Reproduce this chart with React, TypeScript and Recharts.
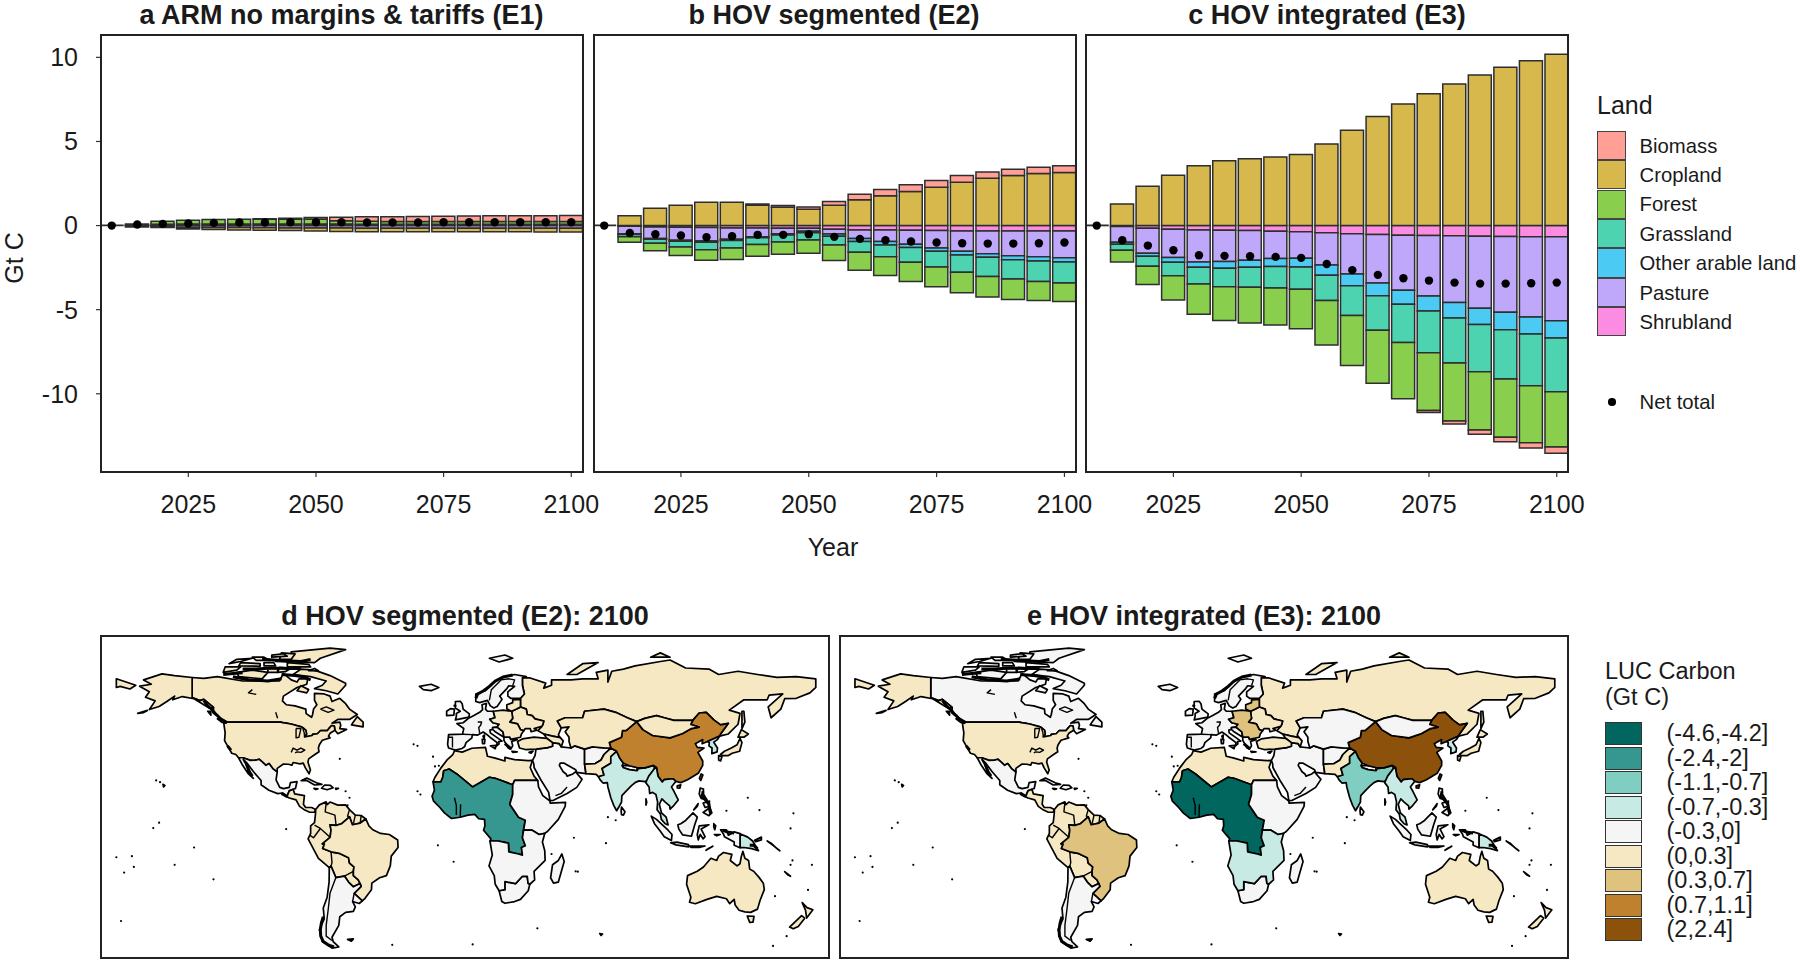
import React from 'react';
import { ComposedChart, ScatterChart, Bar, Line, Scatter, XAxis, YAxis } from 'recharts';

const FONT = '"Liberation Sans", Arial, sans-serif';
const years = [2010, 2015, 2020, 2025, 2030, 2035, 2040, 2045, 2050, 2055, 2060, 2065, 2070, 2075, 2080, 2085, 2090, 2095, 2100];
const yearTicks = [2025, 2050, 2075, 2100];
const gtTicks = [-10, -5, 0, 5, 10];

const landNames = ['Biomass', 'Cropland', 'Forest', 'Grassland', 'Other arable land', 'Pasture', 'Shrubland'];
const landColors = ['#FF9F96', '#D6B84C', '#89CE4D', '#4DD3B0', '#4BCBF3', '#BFA8FA', '#FC8CE2'];
const stackOrder = ['Shrubland', 'Pasture', 'Other arable land', 'Grassland', 'Forest', 'Cropland', 'Biomass'];

// Panel a
const aBiomass = [0, 0, 0, 0, 0, 0, 0.02, 0.06, 0.1, 0.2, 0.26, 0.28, 0.3, 0.32, 0.33, 0.34, 0.35, 0.35, 0.36];
const aCropland = [0, -0.05, -0.05, -0.08, -0.12, -0.14, -0.15, -0.16, -0.17, -0.2, -0.2, -0.2, -0.2, -0.21, -0.21, -0.21, -0.21, -0.22, -0.22];
const aForest = [0.02, 0.05, 0.18, 0.22, 0.26, 0.28, 0.28, 0.28, 0.28, 0.2, 0.18, 0.16, 0.16, 0.16, 0.16, 0.16, 0.16, 0.16, 0.16];
const aGrassland = [0, 0.05, 0.08, 0.09, 0.1, 0.1, 0.1, 0.1, 0.1, 0.09, 0.08, 0.08, 0.08, 0.08, 0.08, 0.08, 0.08, 0.08, 0.08];
const aOther = [0, 0, 0, 0, 0, 0, 0, 0, 0, 0, 0, 0, 0, 0, 0, 0, 0, 0, 0];
const aPasture = [0, -0.03, -0.07, -0.12, -0.12, -0.12, -0.13, -0.14, -0.15, -0.15, -0.16, -0.16, -0.16, -0.16, -0.16, -0.16, -0.16, -0.16, -0.16];
const aShrubland = [0, 0, 0, 0, 0, 0, 0, 0, 0, 0, 0, 0, 0, 0, 0, 0, 0, 0, 0];
const aNet = [0, 0.06, 0.1, 0.12, 0.16, 0.18, 0.18, 0.2, 0.2, 0.2, 0.18, 0.18, 0.18, 0.2, 0.2, 0.2, 0.2, 0.2, 0.2];

// Panel b
const bBiomass = [0, 0, 0, 0, 0, 0, 0.08, 0.1, 0.13, 0.22, 0.32, 0.36, 0.4, 0.4, 0.4, 0.38, 0.38, 0.38, 0.4];
const bCropland = [0, 0.59, 1.03, 1.21, 1.39, 1.39, 1.21, 1.09, 0.97, 1.21, 1.54, 1.78, 2.02, 2.28, 2.57, 2.81, 2.97, 3.09, 3.15];
const bForest = [0.02, -0.32, -0.44, -0.51, -0.63, -0.69, -0.69, -0.73, -0.79, -0.93, -1.07, -1.11, -1.15, -1.17, -1.21, -1.23, -1.21, -1.13, -1.11];
const bGrassland = [0, -0.14, -0.24, -0.34, -0.44, -0.44, -0.4, -0.42, -0.44, -0.51, -0.63, -0.71, -0.87, -0.93, -1.03, -1.13, -1.15, -1.23, -1.25];
const bOther = [0, -0.04, -0.04, -0.06, -0.08, -0.08, -0.06, -0.08, -0.08, -0.14, -0.18, -0.2, -0.2, -0.2, -0.22, -0.22, -0.24, -0.24, -0.24];
const bPasture = [0, -0.45, -0.69, -0.77, -0.79, -0.67, -0.53, -0.32, -0.18, -0.28, -0.51, -0.69, -0.83, -1.03, -1.21, -1.35, -1.47, -1.54, -1.6];
const bShrubland = [0, -0.04, -0.08, -0.1, -0.12, -0.14, -0.14, -0.16, -0.16, -0.22, -0.26, -0.26, -0.28, -0.3, -0.32, -0.32, -0.32, -0.32, -0.32];
const bNet = [0, -0.44, -0.51, -0.59, -0.69, -0.63, -0.55, -0.55, -0.51, -0.67, -0.79, -0.87, -0.95, -1.01, -1.05, -1.07, -1.07, -1.05, -1.01];

// Panel c
const cBiomass = [0, 0, 0, 0, 0, 0, 0, 0, 0, 0, 0, 0, 0, -0.12, -0.18, -0.24, -0.26, -0.32, -0.36];
const cCropland = [0, 1.29, 2.34, 2.99, 3.56, 3.86, 3.98, 4.08, 4.22, 4.85, 5.66, 6.48, 7.23, 7.84, 8.42, 8.95, 9.41, 9.8, 10.18];
const cForest = [0.02, -0.69, -1.09, -1.43, -1.8, -2.02, -2.12, -2.2, -2.36, -2.65, -2.97, -3.15, -3.35, -3.43, -3.45, -3.47, -3.47, -3.39, -3.29];
const cGrassland = [0, -0.36, -0.59, -0.81, -0.99, -1.09, -1.19, -1.27, -1.31, -1.5, -1.78, -2.06, -2.28, -2.48, -2.67, -2.81, -2.93, -3.07, -3.19];
const cOther = [0, -0.12, -0.18, -0.28, -0.32, -0.4, -0.42, -0.48, -0.53, -0.61, -0.69, -0.75, -0.83, -0.89, -0.93, -0.97, -1.03, -1.01, -1.03];
const cPasture = [0, -0.93, -1.49, -1.68, -1.9, -1.86, -1.76, -1.62, -1.58, -1.92, -2.4, -2.89, -3.27, -3.6, -3.96, -4.28, -4.51, -4.77, -4.99];
const cShrubland = [0, -0.06, -0.16, -0.22, -0.26, -0.28, -0.3, -0.34, -0.36, -0.42, -0.48, -0.53, -0.57, -0.59, -0.61, -0.63, -0.65, -0.67, -0.67];
const cNet = [0, -0.87, -1.19, -1.47, -1.76, -1.8, -1.82, -1.86, -1.92, -2.28, -2.65, -2.93, -3.13, -3.27, -3.39, -3.45, -3.45, -3.43, -3.39];

const makeRows = (bio: number[], crop: number[], forest: number[], grass: number[], other: number[], past: number[], shrub: number[], net: number[]) =>
  years.map((year, i) => ({
    year,
    Biomass: bio[i],
    Cropland: crop[i],
    Forest: forest[i],
    Grassland: grass[i],
    'Other arable land': other[i],
    Pasture: past[i],
    Shrubland: shrub[i],
    net: net[i],
  }));

const rowsA = makeRows(aBiomass, aCropland, aForest, aGrassland, aOther, aPasture, aShrubland, aNet);
const rowsB = makeRows(bBiomass, bCropland, bForest, bGrassland, bOther, bPasture, bShrubland, bNet);
const rowsC = makeRows(cBiomass, cCropland, cForest, cGrassland, cOther, cPasture, cShrubland, cNet);

// Map bins
const binLabels = ['(-4.6,-4.2]', '(-2.4,-2]', '(-1.1,-0.7]', '(-0.7,-0.3]', '(-0.3,0]', '(0,0.3]', '(0.3,0.7]', '(0.7,1.1]', '(2,2.4]'];
const binColors = ['#01665E', '#35978F', '#80CDC1', '#C7EAE5', '#F5F5F5', '#F6E8C3', '#DFC27D', '#BF812D', '#8C510A'];

type Ring = number[][];
const usa: Ring = [[-124.7,48.4],[-122.8,49],[-110,49],[-95.2,49],[-94.6,48.7],[-92.5,48.5],[-89.6,48],[-84.8,46.8],[-83.5,46],[-82.5,45.3],[-82.1,43.5],[-83.1,42.1],[-79.2,42.8],[-79,43.3],[-76.5,43.6],[-75,45],[-71.5,45],[-70.3,46.3],[-69.2,47.4],[-67.8,47.1],[-67.5,45.2],[-70,43.8],[-70.8,42.5],[-70,41.7],[-74,40.6],[-75.5,38.5],[-76,37],[-75.7,35.3],[-78,33.9],[-81,32],[-81.4,30.5],[-80.1,26.8],[-80.8,25.1],[-82.7,27.8],[-83.8,30],[-85.5,29.7],[-89,30.3],[-89.6,29.1],[-91.5,29.5],[-94,29.6],[-97.2,27.6],[-97.2,25.9],[-99.5,27.5],[-101.4,29.8],[-103,29],[-104.9,30.6],[-106.5,31.8],[-108.2,31.4],[-111,31.3],[-114.8,32.5],[-117.1,32.5],[-118.5,34],[-120.6,34.6],[-122.5,37.5],[-124.3,40.4],[-124,44]];
const alaska: Ring = [[-141,69.6],[-141,60.3],[-137,58.9],[-135,59.5],[-130,55.8],[-132,55.4],[-135,57],[-140,59.8],[-146,60.8],[-151,59.3],[-150,61],[-154,58.5],[-158,56.2],[-163,54.8],[-160,58.8],[-165,60.5],[-163,63],[-166,64.5],[-168,65.6],[-162,66.5],[-166,68.5],[-156.5,71.3],[-150,70.5]];
const aleutian: Ring = [[-169,53],[-164,54.4],[-166,53.4]];
const canada: Ring = [[-141,69.6],[-135,69.2],[-128,70],[-115,68],[-108,68],[-96,68],[-94,71.5],[-90,68.5],[-87,67.5],[-86,69],[-81.5,69],[-82,66.5],[-87,65],[-94,61],[-94.5,58.8],[-92.5,57],[-88,56.5],[-82.5,55],[-82.3,52.9],[-79.5,51.2],[-79,52.5],[-78.5,55],[-76.8,57],[-78,59],[-78,62.3],[-73,62],[-70,61],[-69,58.5],[-65,60],[-62,57.5],[-60,55],[-56,52.5],[-60,50.2],[-66,50.2],[-69,48.5],[-65,49],[-64.5,47.5],[-65,46],[-61.5,45.6],[-66,43.6],[-67.5,45.2],[-67.8,47.1],[-69.2,47.4],[-70.3,46.3],[-71.5,45],[-75,45],[-76.5,43.6],[-79,43.3],[-79.2,42.8],[-83.1,42.1],[-82.1,43.5],[-82.5,45.3],[-83.5,46],[-84.8,46.8],[-89.6,48],[-92.5,48.5],[-94.6,48.7],[-95.2,49],[-110,49],[-122.8,49],[-125,50],[-128,52],[-130,54.5],[-130,55.8],[-135,59.5],[-137,58.9],[-141,60.3]];
const baffin: Ring = [[-62,66],[-66,62],[-72,63.5],[-78,64.5],[-74,66],[-72,68],[-80,70],[-89,71],[-85,73.5],[-78,73],[-70,70.5],[-62,67]];
const victoria: Ring = [[-117,70],[-105,69],[-102,72],[-110,73],[-118,72]];
const banks: Ring = [[-125,72],[-118,73],[-116,74.5],[-124,74.5]];
const ellesmere: Ring = [[-90,77],[-78,76.5],[-75,78.5],[-62,82.5],[-70,83.2],[-90,81.5]];
const devon: Ring = [[-92,74.5],[-80,74.5],[-81,75.7],[-92,76.5]];
const melville: Ring = [[-117,75],[-106,74.8],[-106,76],[-116,76.5]];
const somerset: Ring = [[-97,72],[-93,72.3],[-90,74],[-96,74.3]];
const axel: Ring = [[-96,78],[-90,78],[-88,80.5],[-95,81]];
const parry: Ring = [[-122,76],[-116,77],[-110,78.5],[-118,78]];
const southampton: Ring = [[-87,63.5],[-82,62.5],[-81,64],[-85,65.8]];
const bathurst: Ring = [[-104,75],[-98,75],[-99,76.5],[-104,76.5]];
const princeWales: Ring = [[-102,72],[-97,72],[-97,73.8],[-102,73.8]];
const amund: Ring = [[-108,77.5],[-101,77.5],[-104,79],[-110,79]];
const meighen: Ring = [[-100,79],[-92,79.5],[-94,80.6],[-100,80]];
const bylot: Ring = [[-81,72.8],[-76,72.7],[-78,73.8]];
const cornwall: Ring = [[-98,77],[-91,76.8],[-93,77.8]];
const newfoundland: Ring = [[-59,47.7],[-53,46.8],[-53,49],[-56,51.5],[-58,49]];
const vancouver: Ring = [[-128,50.5],[-125,50],[-123.4,48.4],[-125.5,48.8]];
const haida: Ring = [[-133,54],[-131.5,54],[-131.3,52.2]];
const mexico: Ring = [[-117.1,32.5],[-114.8,32.5],[-111,31.3],[-108.2,31.4],[-106.5,31.8],[-104.9,30.6],[-103,29],[-101.4,29.8],[-99.5,27.5],[-97.2,25.9],[-97.8,22.3],[-95.9,18.8],[-94,18.2],[-91,18.8],[-90.4,21],[-87,21.5],[-87.8,18.3],[-89,17.9],[-91,17.2],[-92.2,14.5],[-94.5,16.2],[-97,15.9],[-101.5,17.5],[-105.5,20],[-105.5,22],[-109.4,26],[-112.7,30],[-114.7,31.7],[-113,29],[-111.5,25],[-109.5,23],[-112,25],[-115,29]];
const centralAm: Ring = [[-92.2,14.5],[-91,17.2],[-89,17.9],[-88.2,15.8],[-83.2,15],[-83.7,11],[-82.6,9.5],[-79.5,9.5],[-77.4,8.6],[-78,7.3],[-80.5,7.3],[-83,8.3],[-85.7,10],[-87.5,13],[-91,13.9]];
const cuba: Ring = [[-84.9,21.9],[-82,23.1],[-77,20.9],[-74.2,20.2],[-78,19.9],[-82,22]];
const hispaniola: Ring = [[-74.4,18.4],[-72.8,19.9],[-69.8,19.7],[-68.4,18.6],[-71.5,17.7]];
const jamaica: Ring = [[-78.3,18.3],[-76.3,18.1],[-77.3,17.8]];
const puerto: Ring = [[-67.2,18.4],[-65.7,18.3],[-67,17.9]];
const brazil: Ring = [[-51.6,4.2],[-50,1],[-48,-0.8],[-44,-2.5],[-39.5,-3],[-35.2,-5.5],[-35,-9],[-38.5,-13],[-39,-17.5],[-41,-22],[-44.5,-23],[-48.5,-25.5],[-48.7,-28.5],[-52,-32.5],[-53.4,-33.7],[-57.6,-30.2],[-54,-27],[-54.6,-25.6],[-55.5,-24],[-58,-22],[-58,-20],[-57.7,-18],[-60,-16.2],[-60.5,-13.7],[-65.3,-11.7],[-69.5,-11],[-73.8,-9.5],[-72.9,-7.4],[-74,-7.3],[-70,-4.3],[-69.5,-1],[-70,1.5],[-66.9,1.2],[-64,2],[-60,5.2],[-58.5,1.5],[-54.5,2.3]];
const northAndes: Ring = [[-77.4,8.6],[-75.5,10.7],[-72,12.1],[-71.5,10.8],[-70,12],[-66,10.6],[-62,10.7],[-60,8.5],[-57,6],[-54,5.8],[-51.6,4.2],[-54.5,2.3],[-58.5,1.5],[-60,5.2],[-64,2],[-66.9,1.2],[-70,1.5],[-69.5,-1],[-70,-4.3],[-74,-7.3],[-72.9,-7.4],[-73.8,-9.5],[-69.5,-11],[-65.3,-11.7],[-60.5,-13.7],[-60,-16.2],[-57.7,-18],[-58,-20],[-58,-22],[-55.5,-24],[-54.6,-25.6],[-58,-27.2],[-60.5,-25],[-62.6,-22.2],[-67,-22.9],[-69.5,-17.6],[-70.4,-18.3],[-76,-14],[-81.3,-5],[-80,-2.5],[-80,1],[-78,2.5],[-77.5,6.5]];
const southCone: Ring = [[-70.4,-18.3],[-69.5,-17.6],[-67,-22.9],[-62.6,-22.2],[-60.5,-25],[-58,-27.2],[-54.6,-25.6],[-54,-27],[-57.6,-30.2],[-53.4,-33.7],[-55,-34.9],[-58.4,-34],[-57,-36.5],[-58,-38.5],[-62,-39],[-65,-41],[-65.5,-45],[-69,-50.5],[-68.4,-52.5],[-65.5,-55],[-69,-55.5],[-74,-52.5],[-75.5,-47],[-73,-42],[-73.5,-37],[-71.5,-32],[-70.5,-25]];
const falkland: Ring = [[-61,-51.5],[-58,-51.3],[-59,-52.3]];
const northAfrica: Ring = [[-5.9,35.8],[-2,35.1],[3,36.9],[10,37.3],[11,33.2],[15,32.3],[20,31],[20,32.7],[25,31.6],[32,31.2],[34.2,31.3],[33,28],[35,24],[36.9,22],[25,22],[24,20],[15,23],[12,23.5],[3.3,19],[-4.8,25],[-8.7,27.3],[-11.5,26.5],[-12,23.5],[-13,21.3],[-17,21.4],[-16,23.5],[-13,27.7],[-9.8,31.5],[-6.8,34]];
const westAfrica: Ring = [[-17,21.4],[-13,21.3],[-12,23.5],[-11.5,26.5],[-8.7,27.3],[-4.8,25],[3.3,19],[12,23.5],[15,23],[24,20],[24,15.5],[22.5,11],[27,5],[30.5,3.6],[29.6,-1],[29,-4.5],[30.5,-8.2],[28.5,-9],[29,-12.5],[27,-12],[22,-11],[21.8,-7],[16.5,-6],[12.3,-6],[12.8,-5],[9,-1],[9.7,1],[9.5,4],[6.5,4.3],[4.5,6.3],[1,6],[-3,5],[-7.5,4.4],[-11,6.9],[-13.5,9.5],[-16.7,12.4],[-17.5,14.7],[-16.3,17.5]];
const eastAfrica: Ring = [[25,22],[36.9,22],[37.3,19],[39.5,15],[43.2,12.5],[43.3,11.5],[51.2,11.9],[51,10],[47.5,4],[42,-1.5],[40.5,-2.5],[37.6,-3],[34,-1],[29.6,-1],[30.5,3.6],[27,5],[22.5,11],[24,15.5],[24,20]];
const southernAfrica: Ring = [[29.6,-1],[34,-1],[37.6,-3],[40.5,-2.5],[39.3,-6.5],[40.5,-10.5],[40.7,-15],[35,-20],[35.3,-24],[32.8,-26],[31.9,-25.5],[31.5,-22.4],[29,-22.3],[25.5,-25.7],[20,-24.8],[20,-28.5],[17,-29],[15,-26],[14.5,-22],[11.8,-17.5],[13.5,-12.5],[12.3,-6],[16.5,-6],[21.8,-7],[22,-11],[27,-12],[29,-12.5],[28.5,-9],[30.5,-8.2],[29,-4.5]];
const southAfrica: Ring = [[32.8,-26],[32,-29],[28,-33],[25,-34],[20,-34.8],[18.4,-34],[17,-29],[20,-28.5],[20,-24.8],[25.5,-25.7],[29,-22.3],[31.5,-22.4],[31.9,-25.5]];
const madagascar: Ring = [[49.3,-12],[50.5,-15.5],[47.5,-25],[45,-25.5],[43.5,-23],[44.5,-17],[47.5,-15]];
const middleEast: Ring = [[34.2,31.3],[35.5,33.5],[36,36.5],[42,37.2],[44.5,37.8],[44.5,39.5],[48,39],[49,37.5],[54,37],[56,38],[61,36.5],[61,31.5],[61,29.5],[61.7,25.2],[57,25.7],[56.4,27],[50.5,30],[48.5,30],[48,29],[50,26],[51.5,25],[52,24],[55,25],[56.3,26],[59.7,22.5],[57,18.8],[52,16],[45,12.8],[43.2,12.7],[42.5,16.5],[39,21.5],[35,28],[34.9,29.5]];
const afghanistan: Ring = [[61,36.5],[65,37.5],[71.5,37],[74.5,37],[71,34],[69.5,31.5],[66.5,29.8],[61,29.5],[61,31.5]];
const pakistan: Ring = [[61.7,25.2],[61,29.5],[66.5,29.8],[69.5,31.5],[71,34],[74.5,37],[77.5,35.5],[74.5,33],[74.5,30],[70,27.5],[71,24.5],[68.2,23.7],[67,24.8]];
const india: Ring = [[68.2,23.7],[71,24.5],[70,27.5],[74.5,30],[74.5,33],[77.5,35.5],[79,32.5],[81,30],[80.3,28.8],[81,27.9],[84,27],[88,26.5],[88.7,27.5],[92,27.8],[96.5,29],[97,27.5],[94.5,24],[93.3,22],[92,21.5],[89,21.8],[87,21],[85,19.5],[82,16.7],[80.2,15],[80,12],[79,10.3],[77.5,8],[76,10.5],[74.5,14],[73,19],[72.7,21],[70.5,20.8],[69,22.3]];
const nepal: Ring = [[80.3,28.8],[84,28.8],[88,28],[88,26.5],[84,27],[81,27.9]];
const sriLanka: Ring = [[80,9.7],[81.8,7.5],[81,6],[80,6.2],[79.8,8]];
const china: Ring = [[73.7,39.5],[80,42],[80.5,45],[82.5,45.2],[87.8,49.2],[91,45.5],[96,42.8],[105,41.7],[111.5,43.7],[116,46],[119.9,46.7],[115.7,47.9],[116.7,49.8],[120,53.2],[123.6,53.5],[127.5,50],[131,47.7],[135,48.4],[131,43.5],[130.5,42.5],[128,41.5],[124.3,40],[121.5,39],[121.8,40.9],[118,39],[119,37.3],[122.5,37],[119.3,35],[121.8,31],[121.8,29],[119.5,25.3],[114,22.3],[110.5,21],[108,21.6],[106.5,22.8],[102,22.4],[101,21.3],[98.8,24],[98,28],[96.5,29],[92,27.8],[88,28],[84,28.8],[81,30],[79,32.5],[77.5,35.5],[74.5,37]];
const taiwan: Ring = [[121,25],[121.9,24.5],[120.8,22],[120.1,23]];
const hainan: Ring = [[108.7,19.5],[110.5,20],[110,18.4],[108.7,18.5]];
const mongolia: Ring = [[87.8,49.2],[92,50.7],[98,52],[102,51],[107,49.8],[116.7,49.8],[115.7,47.9],[119.9,46.7],[116,46],[111.5,43.7],[105,41.7],[96,42.8],[91,45.5]];
const russia: Ring = [[28,60],[30,62],[29,66],[29,69.5],[33,69.4],[41,67],[40,64.7],[44,66],[44,68.5],[54,68.5],[60,69],[68,69],[67,72],[73,73],[73,67.5],[75,72.5],[81,73.5],[87,75],[100,77],[105,77.7],[113,74],[125,73.5],[130,71],[140,72.5],[150,71],[160,69.7],[170,70],[180,69],[180,65],[177,62.5],[170,60],[164,59.8],[162,55],[157,51],[155.5,56],[163,62],[156,61.5],[155,59.3],[143,59.3],[135.5,54.5],[141,53],[140,48],[135,43.5],[131,42.6],[130.5,42.5],[131,43.5],[135,48.4],[131,47.7],[127.5,50],[123.6,53.5],[120,53.2],[116.7,49.8],[107,49.8],[102,51],[98,52],[92,50.7],[87.8,49.2],[83,51],[77,53.5],[71,55],[61,54],[60,51],[51,51],[47,49.5],[49,46.3],[47.5,43],[48.5,41.8],[44.5,42.5],[40,43.5],[37,45],[39,47],[39.5,47.8],[40,49.5],[35.5,50.5],[34,52],[31.5,52.5],[31,55],[28,56]];
const chukotka: Ring = [[-180,69],[-175,67.5],[-170,66],[-173,64.3],[-178,65.5],[-180,65]];
const novaya: Ring = [[52,71],[57,71],[68,76.5],[60,76]];
const sakhalin: Ring = [[142,46],[143.5,49],[143,54],[142,54],[142,50]];
const severnaya: Ring = [[95,79],[105,79],[100,81]];
const kazakh: Ring = [[47,49.5],[51,51],[60,51],[61,54],[71,55],[77,53.5],[83,51],[87.8,49.2],[82.5,45.2],[80.5,45],[80,42],[73.7,39.5],[74.5,37],[71.5,37],[65,37.5],[61,36.5],[56,38],[54,37],[53,40],[53,42],[51,44.5],[53,46.8],[49,46.3]];
const caucasus: Ring = [[40,43.5],[44.5,42.5],[48.5,41.8],[50,40.3],[49,37.5],[48,39],[44.5,39.5],[41.5,41.5]];
const turkey: Ring = [[26.5,40],[29,41.2],[35,42],[41.5,41.5],[44.5,39.5],[44.5,37.8],[42,37.2],[36,36.5],[30.5,36.3],[27.5,37]];
const westEurope: Ring = [[-9,43.2],[-1.8,43.4],[-1.2,46],[-4.7,48.3],[-1.5,48.7],[1.5,50.9],[4,52],[7,53.5],[8.5,54.8],[8.2,57],[10.5,57.7],[10,55],[11,54],[14,54],[14.9,51],[12.2,50.3],[13.8,48.7],[17,48],[16,46.7],[13.7,46.5],[13.7,45.6],[12.3,45.3],[12.5,44],[16,41.8],[18.5,40.2],[16.8,40],[17,38.9],[15.7,38],[16,39.5],[12.3,42],[10.3,43.5],[8.8,44.4],[6,43],[3.2,43.2],[3,41.7],[0,39.5],[-0.7,37.7],[-2,36.8],[-5.5,36],[-9,37],[-9.5,38.7]];
const britain: Ring = [[-5.5,50],[1.5,51.3],[1.7,52.8],[-1.5,55],[-2,57.5],[-3,58.6],[-5.5,58.5],[-5.5,55.5],[-3,54],[-5,53],[-5,51.7]];
const ireland: Ring = [[-10,52],[-6.3,52.2],[-6,55],[-8,55.2],[-10,54]];
const iceland: Ring = [[-24,65.5],[-18,66.5],[-14,65],[-18,63.5],[-22,64]];
const scandinavia: Ring = [[5,58.5],[7,58],[11,59],[12.5,56.5],[14.3,55.5],[16,56.2],[18.5,59.5],[17.3,61],[21,64.5],[22,65.8],[25,65.5],[21.5,63],[21.5,61],[23,60],[28,60],[30,62],[29,66],[29,69.5],[31,70],[25,71],[18,69.5],[14,67],[10,63.5],[5,62]];
const svalbard: Ring = [[12,78.5],[20,80],[24,78.5],[17,76.8]];
const eastEurope: Ring = [[14,54],[19,54.5],[23.5,54],[24,50.7],[22.5,49],[26.5,48.2],[28,45.5],[29.7,45],[28.5,43.5],[28,42],[23,41],[22.5,42],[19.5,42],[19,44.5],[16,46.7],[17,48],[13.8,48.7],[12.2,50.3],[14.9,51]];
const baltics: Ring = [[21,55],[21,57],[24,58],[24,59.3],[28,59.5],[28,56],[26,55],[23.5,54]];
const ukraine: Ring = [[23.5,54],[26,55],[28,56],[31,55],[31.5,52.5],[34,52],[35.5,50.5],[40,49.5],[39.5,47.8],[39,47],[35,46],[36.5,45.2],[33.5,44.5],[33,46],[30.5,46],[29.7,45],[28,45.5],[26.5,48.2],[22.5,49],[24,50.7]];
const balkans: Ring = [[13.7,45.6],[13.7,46.5],[16,46.7],[19,44.5],[19.5,42],[22.5,42],[23,41],[26,41],[26.3,40.8],[23.5,40],[24,38],[23,36.5],[21.7,37],[19.5,40.5],[19.5,42],[15,44.5]];
const sicily: Ring = [[12.5,38],[15.5,38.2],[15,36.7]];
const sardinia: Ring = [[8.3,41],[9.7,41],[9.5,39],[8.5,39]];
const corsica: Ring = [[8.7,42.5],[9.5,43],[9.3,41.4]];
const crete: Ring = [[23.6,35.5],[26.3,35.2],[24,35]];
const cyprus: Ring = [[32.4,35],[34.5,35.6],[33.5,34.6]];
const seAsia: Ring = [[92.5,21],[94,24],[97,27.5],[98,28],[98.8,24],[101,21.3],[102,22.4],[106.5,22.8],[108,21.6],[105.7,19],[107,17],[109.2,13],[107,10.5],[105,8.7],[104.8,10.2],[102.5,12],[100.8,13.5],[99.5,11],[100,9],[100.6,7],[103,5],[104,1.4],[102.5,2],[100.5,4],[100,6.5],[98.3,8.5],[98.6,12],[97.7,15.5],[96,16.5],[94.5,16],[94.2,19]];
const korea: Ring = [[124.3,40],[128,41.5],[130.5,42.5],[129.5,41],[127.5,39.7],[129.4,37],[129.2,35.2],[126.5,34.4],[126.6,37],[125,38],[125.2,39.5]];
const honshu: Ring = [[130.9,34],[133,35.5],[136.5,37],[139.5,38.5],[141,41.5],[142,39.5],[140.8,35.5],[137,34.6],[135,33.5],[132,33.5]];
const hokkaido: Ring = [[140,42],[141.7,45.5],[145.3,43.5],[143,42]];
const kyushu: Ring = [[130,33.5],[131.7,33],[131,31],[130,31.5]];
const sumatra: Ring = [[95.3,5.5],[98,4],[104,-1],[106,-3],[105.7,-5.8],[102,-4],[100,-1.5],[97,2]];
const java: Ring = [[105.3,-6.8],[108.5,-6.5],[114.5,-7.7],[114.5,-8.7],[108,-7.8]];
const borneo: Ring = [[109,1.5],[110.5,2],[113,3.5],[116.8,7],[119,5],[117.7,1.5],[116,-3.8],[111.5,-3.2],[109.5,-0.5]];
const sulawesi: Ring = [[120,1],[125,1.5],[121,-0.5],[123,-4],[122,-5],[120.5,-3],[119.5,-5.5],[119,-3]];
const luzon: Ring = [[120.5,18.5],[122.2,18],[122,16],[124,13],[121,13.7],[120,15.8]];
const visayas: Ring = [[122,11.5],[125.3,12.5],[125,10],[123,9.5]];
const palawan: Ring = [[117.2,8.4],[119.5,11.3],[119,10]];
const mindanao: Ring = [[122,7.2],[125.5,9.5],[126.5,7],[125,5.7]];
const papuaWest: Ring = [[131,-0.8],[134,-0.8],[135,-3.3],[138,-1.8],[141,-2.6],[141,-9.1],[138,-8],[138,-6.5],[133,-4],[132.5,-2.8]];
const png: Ring = [[141,-2.6],[145,-4.2],[147.5,-6],[150.5,-10.5],[147,-9.5],[143,-9],[141,-9.1]];
const newBritain: Ring = [[148.5,-5.7],[152,-4.2],[152,-5.5],[149,-6.3]];
const timor: Ring = [[123.5,-10.3],[127,-8.4],[125,-9.3]];
const sunda: Ring = [[115,-8.3],[120,-8.3],[123,-8.3],[120,-9],[116,-9]];
const halmahera: Ring = [[127.5,2],[128.5,1],[128,-0.8],[127.5,0.5]];
const seram: Ring = [[127.8,-3],[130.8,-3],[129,-3.6]];
const solomon: Ring = [[155,-6],[158,-8],[161.5,-10.5],[160,-9.5],[157,-7]];
const australia: Ring = [[114,-22],[113.5,-26],[115.7,-32],[115,-34.3],[118,-35],[124,-33],[129,-31.6],[134,-32.7],[135.7,-35],[138,-33],[138.5,-35.6],[140.5,-38],[143.5,-38.8],[146.5,-39],[150,-37.5],[151.3,-33.5],[153.5,-28.5],[153,-25.5],[150.7,-22.7],[148,-20],[146,-19],[145.4,-15],[143.5,-14],[142.5,-10.8],[141.7,-13],[141,-16.5],[139.5,-17.5],[136,-15],[136.8,-12.2],[132.5,-11.3],[130,-13],[129,-15],[126,-14],[122.2,-18],[119,-20]];
const tasmania: Ring = [[144.7,-40.7],[148.2,-40.8],[147.7,-43.5],[146,-43.6]];
const nzNorth: Ring = [[173,-34.5],[175.5,-36.8],[178.5,-37.8],[175.3,-41.6],[174.7,-38]];
const nzSouth: Ring = [[172.7,-40.5],[174.3,-41.7],[171,-45.5],[168.4,-46.6],[166.5,-45.8]];
const newCaledonia: Ring = [[164,-20.2],[167,-22.3],[165.5,-21.6]];
const hawaii: Ring = [[-156,20.2],[-155,19.7],[-155.7,19]];
const kerguelen: Ring = [[68.8,-48.8],[70.3,-49],[69.5,-49.7]];
const andaman: Ring = [[92.6,13.5],[93,12],[92.6,10.6]];

// Region: rings, bin index on map d, bin index on map e
const landRegions: { rings: Ring[]; d: number; e: number }[] = [
  { rings: [canada, baffin, victoria, banks, ellesmere, devon, melville, somerset, axel, parry, southampton, bathurst, princeWales, amund, meighen, bylot, cornwall, newfoundland, vancouver, haida], d: 5, e: 4 },
  { rings: [usa, alaska, aleutian, hawaii], d: 5, e: 5 },
  { rings: [mexico, cuba, hispaniola, jamaica, puerto], d: 4, e: 4 },
  { rings: [centralAm, northAndes], d: 5, e: 5 },
  { rings: [brazil], d: 5, e: 6 },
  { rings: [southCone, falkland], d: 4, e: 4 },
  { rings: [northAfrica], d: 5, e: 5 },
  { rings: [westAfrica], d: 1, e: 0 },
  { rings: [eastAfrica, southAfrica, madagascar], d: 4, e: 4 },
  { rings: [southernAfrica], d: 4, e: 3 },
  { rings: [middleEast, afghanistan, nepal, sriLanka], d: 4, e: 4 },
  { rings: [pakistan, russia, chukotka, novaya, sakhalin, severnaya, caucasus, turkey, ukraine, cyprus], d: 5, e: 5 },
  { rings: [india], d: 3, e: 2 },
  { rings: [china, taiwan, hainan], d: 7, e: 8 },
  { rings: [mongolia, kazakh], d: 5, e: 4 },
  { rings: [westEurope, britain, ireland, iceland, scandinavia, svalbard, balkans, sicily, sardinia, corsica, crete], d: 4, e: 4 },
  { rings: [eastEurope, baltics], d: 5, e: 6 },
  { rings: [seAsia, korea, png, newBritain], d: 3, e: 3 },
  { rings: [sumatra, java, borneo, sulawesi, luzon, visayas, palawan, mindanao, papuaWest, timor, sunda, halmahera, seram, solomon, andaman, kerguelen, newCaledonia], d: 4, e: 4 },
  { rings: [honshu, hokkaido, kyushu, australia, tasmania, nzNorth, nzSouth], d: 5, e: 5 },
];

const borderLines: Ring[] = [
  [[-72,12],[-72.5,7.5],[-67.5,6],[-66.9,1.2]],
  [[-70,-4.3],[-75,-0.2],[-78,1.3]],
  [[-75,-0.2],[-78.5,-4.5],[-80.3,-3.4]],
  [[-69.5,-11],[-69,-16],[-69.5,-17.6]],
  [[-58,-20],[-62.6,-22.2]],
  [[-60,8.5],[-61,5.5],[-60,5.2]],
  [[-57,6],[-58,2]],
  [[-54,5.8],[-54.5,2.3]],
  [[-67,-22.9],[-70,-30],[-71,-38],[-72,-45],[-72,-50],[-69,-52]],
  [[-57.6,-30.2],[-58.4,-34]],
  [[-5,6],[-5,10.5],[-6,14]],
  [[-3,5],[-2.8,11]],
  [[-87.5,46],[-85,46],[-86,42],[-87.5,41.7],[-87.5,46]],
  [[-84,46],[-83.3,44],[-83.1,42.1]],
  [[-90,35],[-89,37],[-87,36],[-85,37],[-83,36],[-85,35],[-87,35.2],[-88,34.8]],
  [[-1.8,43.4],[3.2,43.2]],
  [[-9,42],[-7,42],[-7,37.2]],
  [[6,49],[8,49],[7.5,47.5],[6.5,46.5],[7,44]],
  [[12,59],[13,64],[18,68.5],[22,69],[25,68.5],[24,65.8]],
  [[-110,64],[-112,62.5],[-108,61.8]],
  [[-98,53.5],[-97,50.8]],
  [[-75,55],[-71,53.5],[-68,54.5],[-72,56],[-75,55]],
  [[46,15],[49,16],[52,19]],
];

// Heavily indented coasts, which print almost solid black in the reference
const indentedCoasts: Ring[] = [
  [[-135,59],[-133,56.5],[-131,55],[-130,53.5],[-128,52],[-126.5,50.5],[-124.5,49.5],[-123,48.5]],
  [[-73.5,-41],[-74.5,-44],[-75,-47],[-74.8,-50],[-73.5,-52.5],[-71,-54],[-68,-55]],
  [[5,60],[6,62],[9,63.5],[12,65.5],[15,68],[19,69.8],[24,70.8]],
  [[-120,70],[-112,68.6],[-102,68],[-95,69]],
  [[-115,73.5],[-108,73.5],[-100,74],[-92,73.8],[-85,73.8]],
  [[-105,78],[-95,77.5],[-85,77],[-80,78]],
  [[-95,71],[-88,70.5],[-84,70],[-80,68.5]],
  [[-125,71],[-120,71.5],[-115,71.8]],
  [[122,17],[121.5,14.5],[123.5,12.8],[125,11],[125.5,8],[126,6.5]],
  [[132,-1],[135,-2],[138,-2.3]],
  [[20,39],[22,37.5],[23,36.7]],
  [[-95,16],[-92,14.5]],
  [[-122.8,38],[-121,36]],
  [[-113,29.5],[-111.5,26],[-110,24]],
  [[150,-9.5],[148,-8],[146,-8]],
  [[-5.5,57],[-6,56]],
];

const islandDots: Ring = [[-157.5,21.2],[-159.5,22],[-92.6,-0.5],[-161,0],[-158,2.5],[-172,-13],[-180,-13.5],[-171,-18],[-150,-17],[-176,-20.6],[-130,-23.7],[-177.6,-43],[-140,-9],[-27,38.7],[-25,38],[-17,33],[-16,28.5],[-14,28.8],[-25,17],[-23.5,15.5],[-6.4,-15.6],[3.4,-53.8],[36.7,-46.4],[56.4,-20],[57.5,-20.2],[77,3.6],[73,5],[134,8],[151,8.3],[168.5,6.8],[167,-0.2],[165,-50],[176,-28.6],[-38,-54],[178,-17],[168,-15],[167,-17],[72,-7],[55.5,-4.5],[44,-12],[-14.5,-8],[-65,32],[-60,14],[-61,10.5],[145,14],[159,-31.5],[158,-54.5],[-62,17]];
const dotRows = islandDots.map(([lon, lat]) => ({ lon, lat }));

const Label = ({ x, y, size, bold, align, rotate, children }: any) => (
  <div
    style={{
      position: 'absolute',
      left: x,
      top: y,
      fontFamily: FONT,
      fontSize: size,
      fontWeight: bold ? 700 : 400,
      color: '#1a1a1a',
      lineHeight: 1,
      whiteSpace: 'nowrap',
      transform: `translate(${align === 'start' ? '0' : '-50%'},-50%)${rotate ? ` rotate(${rotate}deg)` : ''}`,
    }}
  >
    {children}
  </div>
);

const Frame = ({ x0, x1, y0, y1 }: any) => (
  <div style={{ position: 'absolute', left: x0 - 1, top: y0 - 1, width: x1 - x0 + 2, height: y1 - y0 + 2, boxSizing: 'border-box', border: '2px solid #222' }} />
);

const PANEL_TOP = 35;
const PANEL_BOTTOM = 472;
const STACK_H = 560;
const Y_W = 60;
const X_H = 60;

const StackPanel = ({ rows, x0, x1, showY }: any) => (
  <div style={{ position: 'absolute', left: 0, top: 0 }}>
    <ComposedChart
      width={1800}
      height={STACK_H}
      data={rows}
      stackOffset="sign"
      barSize={23}
      margin={{ left: showY ? x0 - Y_W : x0, right: 1800 - x1, top: PANEL_TOP, bottom: STACK_H - PANEL_BOTTOM - X_H }}
    >
      <XAxis
        dataKey="year"
        type="number"
        domain={[2007.9, 2102.2]}
        allowDataOverflow
        ticks={yearTicks}
        interval={0}
        height={X_H}
        axisLine={false}
        tickLine={{ stroke: '#333', strokeWidth: 1.2 }}
        tickSize={5}
        tickMargin={18}
        tick={{ fontSize: 25, fill: '#1a1a1a', fontFamily: FONT }}
      />
      <YAxis
        type="number"
        domain={[-14.65, 11.33]}
        allowDataOverflow
        ticks={gtTicks}
        interval={0}
        hide={!showY}
        width={Y_W}
        axisLine={false}
        tickLine={{ stroke: '#333', strokeWidth: 1.2 }}
        tickSize={5}
        tickMargin={18}
        tick={{ fontSize: 25, fill: '#1a1a1a', fontFamily: FONT }}
      />
      {stackOrder.map((name) => (
        <Bar
          key={name}
          dataKey={name}
          stackId="land"
          fill={landColors[landNames.indexOf(name)]}
          stroke="#2e2e2e"
          strokeWidth={1.5}
          isAnimationActive={false}
        />
      ))}
      <Line dataKey="net" stroke="none" dot={{ r: 4.2, fill: '#000', stroke: '#000', strokeWidth: 0 }} isAnimationActive={false} />
    </ComposedChart>
  </div>
);

const toRows = (ring: Ring) => ring.map(([lon, lat]) => ({ lon, lat }));
const noPoint = () => null;
const polygonLine = (fill: string) => (p: any) => (
  <polygon
    points={p.points.map((q: any) => `${q.x},${q.y}`).join(' ')}
    fill={fill}
    stroke="#000"
    strokeWidth={1.7}
    strokeLinejoin="round"
  />
);
const openLine = (width: number) => (p: any) => (
  <polyline
    points={p.points.map((q: any) => `${q.x},${q.y}`).join(' ')}
    fill="none"
    stroke="#000"
    strokeWidth={width}
    strokeLinejoin="round"
  />
);
const islandDot = (p: any) => <circle cx={p.cx} cy={p.cy} r={1.1} fill="#000" />;

const MapPanel = ({ which, x0, x1 }: any) => (
  <div style={{ position: 'absolute', left: 0, top: 0 }}>
    <ScatterChart width={1800} height={960} margin={{ left: x0, right: 1800 - x1, top: 636, bottom: 2 }}>
      <XAxis dataKey="lon" type="number" hide domain={[-187.9, 186.8]} allowDataOverflow />
      <YAxis dataKey="lat" type="number" hide domain={[-60.1, 88.8]} allowDataOverflow />
      {landRegions.flatMap((region, i) =>
        region.rings.map((ring, j) => (
          <Scatter
            key={`${i}-${j}`}
            data={toRows(ring)}
            shape={noPoint}
            line={polygonLine(binColors[which === 'd' ? region.d : region.e])}
            isAnimationActive={false}
          />
        )),
      )}
      {borderLines.map((ring, j) => (
        <Scatter key={`b${j}`} data={toRows(ring)} shape={noPoint} line={openLine(1.4)} isAnimationActive={false} />
      ))}
      {indentedCoasts.map((ring, j) => (
        <Scatter key={`c${j}`} data={toRows(ring)} shape={noPoint} line={openLine(3)} isAnimationActive={false} />
      ))}
      <Scatter data={dotRows} shape={islandDot} isAnimationActive={false} />
    </ScatterChart>
  </div>
);

export default function App() {
  return (
    <div style={{ position: 'absolute', left: 0, top: 0, width: 1800, height: 960, background: '#fff', overflow: 'hidden' }}>
      <StackPanel rows={rowsA} x0={101} x1={582.5} showY />
      <StackPanel rows={rowsB} x0={593.5} x1={1075.7} />
      <StackPanel rows={rowsC} x0={1086} x1={1568} />
      <Frame x0={101} x1={582.5} y0={PANEL_TOP} y1={PANEL_BOTTOM} />
      <Frame x0={593.5} x1={1075.7} y0={PANEL_TOP} y1={PANEL_BOTTOM} />
      <Frame x0={1086} x1={1568} y0={PANEL_TOP} y1={PANEL_BOTTOM} />
      <Label x={341.5} y={15} size={27} bold>a ARM no margins &amp; tariffs (E1)</Label>
      <Label x={834} y={15} size={27} bold>b HOV segmented (E2)</Label>
      <Label x={1327} y={15} size={27} bold>c HOV integrated (E3)</Label>
      <Label x={14} y={258} size={25} rotate={-90}>Gt C</Label>
      <Label x={833} y={547} size={25}>Year</Label>

      <Label x={1597} y={105} size={25} align="start">Land</Label>
      {landNames.map((name, i) => (
        <React.Fragment key={name}>
          <div style={{ position: 'absolute', left: 1597, top: 130.7 + i * 29.4, width: 29, height: 29.4, boxSizing: 'border-box', background: landColors[i], border: '1.5px solid #444' }} />
          <Label x={1639.5} y={145.5 + i * 29.4} size={20.3} align="start">{name}</Label>
        </React.Fragment>
      ))}
      <div style={{ position: 'absolute', left: 1608, top: 398, width: 7.5, height: 7.5, borderRadius: '50%', background: '#000' }} />
      <Label x={1639.5} y={402} size={20.3} align="start">Net total</Label>

      <MapPanel which="d" x0={101} x1={829} />
      <MapPanel which="e" x0={839.6} x1={1568} />
      <Frame x0={101} x1={829} y0={636} y1={958} />
      <Frame x0={839.6} x1={1568} y0={636} y1={958} />
      <Label x={465} y={616} size={27} bold>d HOV segmented (E2): 2100</Label>
      <Label x={1204} y={616} size={27} bold>e HOV integrated (E3): 2100</Label>

      <Label x={1605} y={672} size={23.5} align="start">LUC Carbon</Label>
      <Label x={1605} y={698} size={23.5} align="start">(Gt C)</Label>
      {binLabels.map((label, i) => (
        <React.Fragment key={label}>
          <div style={{ position: 'absolute', left: 1605, top: 722 + i * 24.5, width: 37, height: 23, boxSizing: 'border-box', background: binColors[i], border: '1.5px solid #333' }} />
          <Label x={1666.5} y={734 + i * 24.5} size={23.5} align="start">{label}</Label>
        </React.Fragment>
      ))}
    </div>
  );
}
